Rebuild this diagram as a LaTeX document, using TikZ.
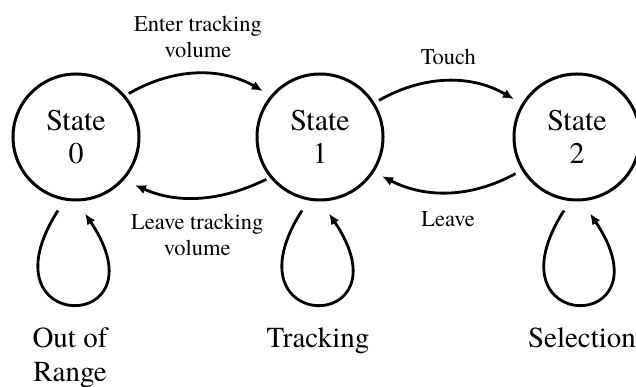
\documentclass[tikz,border=0pt]{standalone}
\usepackage{fontspec}
\setmainfont{TeX Gyre Termes}
\usetikzlibrary{shapes,arrows.meta,positioning}
\tikzstyle{state} = [circle, draw, line width=3pt, minimum size=126pt,
    inner sep=0pt, align=center, font=\fontsize{30}{33}\selectfont]
\tikzstyle{line} = [draw, line width=2.8pt, -{Latex[length=11pt,width=9.5pt]}]
\tikzstyle{elabel} = [align=center, font=\fontsize{22.5}{26}\selectfont]
\tikzstyle{mode} = [align=center, font=\fontsize{29}{34}\selectfont]

\begin{document}
\begin{tikzpicture}[x=1pt, y=1pt, auto]
		\useasboundingbox (0,0) rectangle (636,387);
		\node [state] at (76,250) (s0) {State\\0};
		\node [state, right=115pt of s0] (s1) {State\\1};
		\node [state, right=128pt of s1] (s2) {State\\2};

		\node [mode, below=123pt of s0, xshift=-6pt] (range) {Out of\\Range};
		\node [mode, below=123pt of s1, xshift=-2pt] (track) {Tracking};
		\node [mode, below=123pt of s2, xshift=5pt] (select) {Selection};
		
		\path [line, shorten <=4pt, shorten >=9pt] (s0.40) to[bend left=30]
			node [elabel, above=12pt] (enter) {Enter tracking\\volume} (s1.140);
		\path [line, shorten <=4pt, shorten >=12pt] (s1.219) to[bend left=25]
			node [elabel, below=12pt, swap] (leavevol) {Leave tracking\\volume} (s0.318);
		\path [line, shorten <=5pt, shorten >=9pt] (s1.32) to[bend left=30]
			node [elabel, above=12pt] (touch) {Touch} (s2.149);
		\path [line, shorten <=7pt, shorten >=9pt] (s2.211) to[bend left=28]
			node [elabel, below=15pt, swap] (leave) {Leave} (s1.327);

		\path [line] ([xshift=-18pt, yshift=-9pt]s0.south) .. controls +(-80,-125) and +(82,-122) .. ([xshift=9pt, yshift=-12pt]s0.south);
		\path [line] ([xshift=-18pt, yshift=-9pt]s1.south) .. controls +(-80,-125) and +(82,-122) .. ([xshift=9pt, yshift=-12pt]s1.south);
		\path [line] ([xshift=-13pt, yshift=-9pt]s2.south) .. controls +(-80,-125) and +(82,-122) .. ([xshift=13pt, yshift=-12pt]s2.south);
	\end{tikzpicture}
\end{document}
